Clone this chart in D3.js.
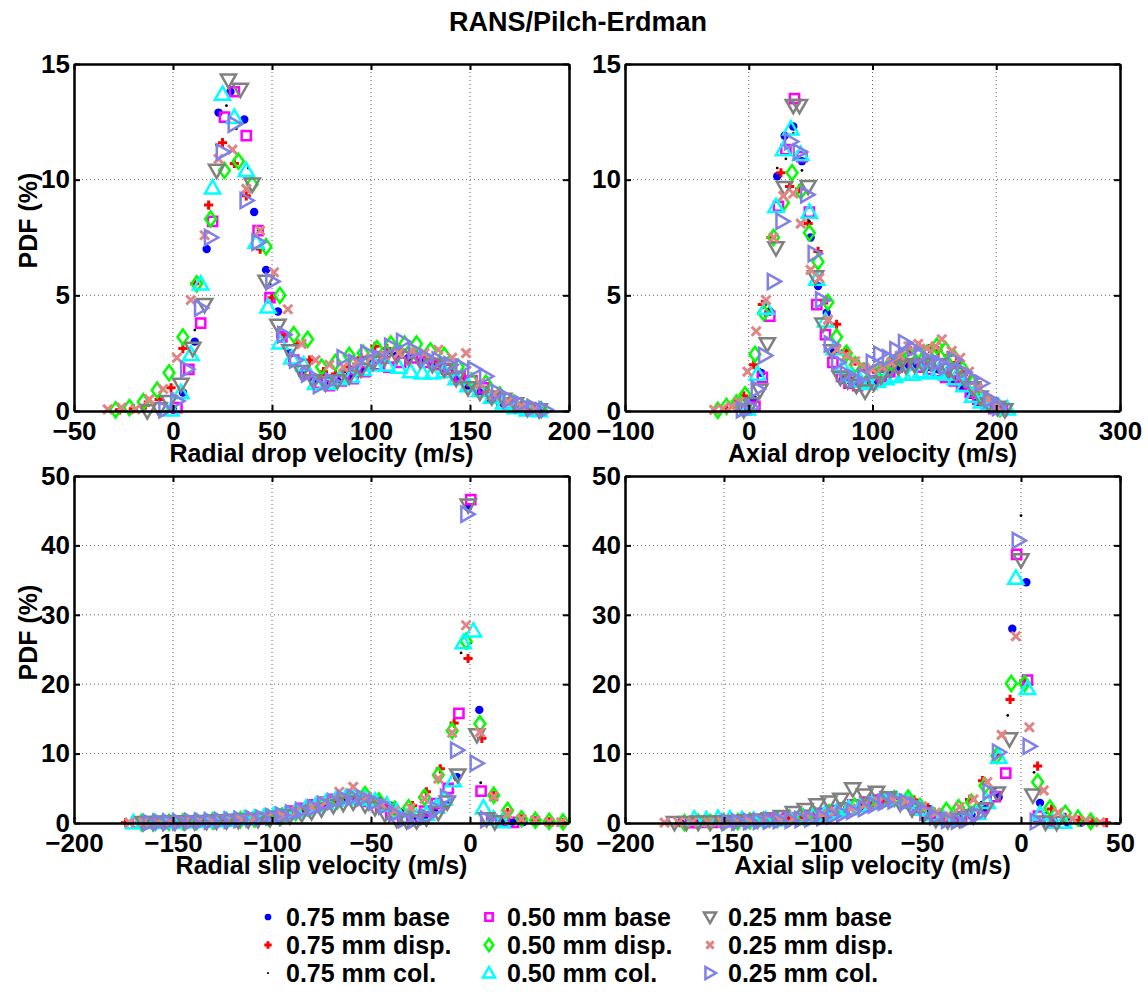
<!DOCTYPE html>
<html lang="en">
<head>
<meta charset="UTF-8">
<title>RANS/Pilch-Erdman</title>
<script src="https://d3js.org/d3.v7.min.js"></script>
<style>
  body { margin: 0; background: #fff; }
  svg { display: block; font-family: "Liberation Sans", Arial, sans-serif; font-weight: bold; }
</style>
</head>
<body>
<svg id="chart" width="1148" height="992"></svg>
<script>
// ---- series names (legend order = draw order) ----
const seriesNames = ["0.75 mm base", "0.75 mm disp.", "0.75 mm col.",
                     "0.50 mm base", "0.50 mm disp.", "0.50 mm col.",
                     "0.25 mm base", "0.25 mm disp.", "0.25 mm col."];

// ---- Radial drop velocity: [m/s, PDF %] ----
const rdB75 = [[0,0.05],[5,0.8],[11,3.0],[17,7.0],[23,12.9],[29,13.8],[36,12.6],[41,8.6],[47,6.1],[53,4.3],[59,2.5],[65,1.6],[71,1.3],[77,1.1],[83,1.3],[89,1.5],[95,1.8],[101,2.1],[107,2.3],[113,2.4],[119,2.3],[125,2.1],[131,1.9],[137,1.7],[143,1.4],[149,1.1],[155,0.8],[161,0.5],[167,0.3],[173,0.15],[179,0.07],[185,0.02]];
const rdD75 = [[-27,0.05],[-20,0.1],[-14,0.25],[-7,0.5],[-1,1.0],[5,2.7],[11,5.5],[18,8.9],[25,11.6],[31,10.7],[37,9.3],[44,7.0],[50,4.9],[56,3.3],[63,2.9],[69,2.2],[76,1.7],[82,1.6],[89,1.9],[95,2.3],[102,2.8],[108,2.7],[115,2.6],[121,2.5],[128,2.3],[134,2.1],[141,1.8],[147,1.4],[154,1.1],[160,0.7],[167,0.4],[173,0.2],[180,0.05]];
const rdC75 = [[-1,0.2],[5,1.0],[11,3.5],[16,7.5],[22,11.5],[27,13.2],[32,12.2],[38,10.5],[43,7.8],[49,5.5],[54,3.6],[60,2.4],[65,1.5],[71,1.2],[76,1.2],[82,1.4],[87,1.7],[93,2.0],[98,2.3],[104,2.5],[109,2.5],[115,2.4],[120,2.2],[126,2.0],[131,1.8],[137,1.6],[142,1.3],[148,1.0],[153,0.7],[159,0.4],[164,0.25],[170,0.12],[175,0.05],[181,0.02]];
const rdB50 = [[2,0.15],[8,1.8],[14,3.8],[20,8.2],[26,12.7],[31,13.8],[37,11.9],[43,7.8],[49,4.9],[55,3.2],[61,2.2],[67,1.6],[73,1.2],[79,1.1],[85,1.3],[91,1.4],[97,1.7],[103,2.0],[109,1.9],[115,2.1],[121,2.3],[127,2.1],[133,2.0],[139,1.8],[145,1.5],[151,1.3],[157,1.0],[163,0.6],[169,0.3],[175,0.15],[181,0.05]];
const rdD50 = [[-29,0.05],[-22,0.15],[-15,0.4],[-8,0.9],[-2,1.65],[5,3.2],[12,5.5],[19,8.3],[26,10.4],[33,10.8],[40,9.8],[47,7.1],[54,5.0],[61,3.3],[68,3.1],[75,1.9],[82,2.1],[89,2.4],[96,2.5],[103,2.7],[110,2.9],[117,2.9],[123,2.9],[130,2.6],[137,2.4],[144,1.9],[151,1.3],[158,1.2],[165,0.7],[172,0.35],[179,0.15],[186,0.05]];
const rdC50 = [[-1,0.05],[4,0.8],[9,2.45],[14,5.5],[20,9.65],[25,13.7],[31,12.7],[37,10.4],[42,7.3],[48,4.5],[54,2.95],[60,2.3],[66,2.0],[72,1.2],[78,1.2],[84,1.4],[90,1.5],[96,1.8],[102,2.0],[108,2.0],[114,1.9],[120,1.7],[126,1.65],[131,1.65],[137,1.7],[143,1.4],[149,1.1],[155,0.9],[161,0.6],[167,0.35],[173,0.15],[179,0.05],[185,0.02]];
const rdB25 = [[-13,0.0],[-7,0.1],[-2,0.4],[4,1.15],[10,2.7],[16,4.6],[22,10.4],[28,14.3],[34,13.9],[40,9.8],[47,5.6],[53,3.7],[59,2.6],[65,1.7],[71,1.3],[77,1.2],[83,1.3],[89,1.5],[95,1.8],[101,2.1],[107,2.3],[113,2.4],[119,2.3],[125,2.2],[131,2.0],[137,1.8],[143,1.4],[149,1.0],[155,0.8],[161,0.6],[167,0.5],[173,0.3],[179,0.1],[185,0.05]];
const rdD25 = [[-33,0.07],[-26,0.15],[-19,0.07],[-12,0.5],[-5,0.95],[2,2.3],[9,4.8],[16,7.6],[23,10.9],[30,11.3],[37,9.6],[44,7.8],[51,6.0],[58,4.4],[65,2.9],[72,2.2],[79,2.0],[86,1.9],[93,2.1],[100,2.3],[107,2.4],[114,2.5],[121,2.6],[127,2.5],[134,2.65],[141,2.3],[148,2.5],[155,1.2],[162,0.7],[169,0.4],[176,0.2],[183,0.05]];
const rdC25 = [[-4,0.05],[2,0.43],[7,1.8],[14,4.45],[19,7.5],[25,11.2],[31,12.4],[37,9.1],[43,7.3],[50,5.6],[56,3.3],[62,2.2],[68,1.6],[74,1.1],[80,1.3],[86,2.3],[92,2.1],[98,2.5],[104,2.3],[110,2.8],[116,3.0],[122,2.6],[128,2.3],[134,2.2],[140,2.0],[146,1.9],[152,1.8],[158,1.5],[164,0.8],[170,0.5],[176,0.3],[182,0.15],[188,0.05]];

// ---- Axial drop velocity ----
const adB75 = [[-1,0.1],[4,0.5],[10,1.65],[17,4.3],[23,10.15],[29,11.9],[36,12.3],[43,10.8],[50,7.5],[56,5.4],[63,4.25],[69,2.6],[76,1.35],[82,1.3],[89,1.2],[95,1.1],[101,1.2],[108,1.4],[114,1.6],[121,1.8],[127,1.9],[134,2.0],[140,2.0],[146,1.9],[153,1.8],[159,1.6],[166,1.3],[172,1.0],[179,0.7],[185,0.4],[192,0.2],[198,0.1],[205,0.03]];
const adD75 = [[-18,0.1],[-11,0.3],[-4,0.65],[4,2.0],[11,4.6],[18,7.5],[26,10.3],[33,9.7],[41,9.6],[48,8.1],[56,6.9],[63,4.8],[71,3.75],[78,2.6],[86,2.15],[93,1.9],[101,1.8],[108,1.9],[116,2.1],[123,2.4],[131,2.6],[138,2.8],[146,2.7],[153,2.6],[161,2.4],[168,2.1],[176,1.7],[183,1.2],[191,0.6],[198,0.2],[206,0.05]];
const adC75 = [[-3,0.1],[3,0.6],[9,1.8],[16,4.4],[23,10.5],[30,10.9],[36,12.0],[43,10.4],[49,8.2],[56,6.9],[63,4.0],[69,2.6],[76,1.6],[83,1.4],[89,1.3],[96,1.2],[103,1.3],[109,1.5],[116,1.7],[122,1.9],[129,2.1],[136,2.2],[142,2.3],[149,2.2],[156,2.0],[162,1.8],[169,1.6],[176,1.2],[182,0.8],[189,0.4],[195,0.15],[202,0.05]];
const adB50 = [[-2,0.05],[5,0.2],[11,1.45],[17,4.1],[24,8.85],[30,11.3],[37,13.5],[43,11.0],[49,8.6],[55,4.6],[62,3.3],[68,2.1],[75,1.5],[81,1.2],[88,1.1],[94,1.2],[101,1.3],[107,1.5],[114,1.7],[120,1.9],[127,2.0],[133,2.0],[140,1.9],[146,1.8],[153,1.7],[159,1.45],[166,1.3],[172,1.1],[179,0.8],[185,0.5],[192,0.3],[198,0.1],[205,0.03]];
const adD50 = [[-25,0.03],[-18,0.2],[-10,0.35],[-3,0.7],[5,2.45],[12,4.25],[20,7.5],[28,9.0],[35,10.3],[42,9.5],[49,7.7],[56,6.45],[64,4.7],[71,3.2],[79,2.5],[86,2.0],[93,1.7],[100,1.6],[108,1.8],[115,2.1],[122,2.3],[130,2.4],[137,2.6],[144,2.5],[152,2.8],[159,2.65],[166,2.3],[173,1.8],[181,1.2],[188,0.6],[195,0.3],[203,0.1]];
const adC50 = [[-1,0.1],[7,1.6],[14,4.45],[22,8.85],[28,11.3],[34,12.2],[42,11.1],[49,8.6],[55,5.7],[62,3.9],[69,2.7],[76,1.9],[83,1.5],[90,1.3],[97,1.2],[104,1.3],[111,1.4],[118,1.5],[125,1.6],[132,1.6],[139,1.7],[146,1.65],[153,1.7],[160,1.6],[167,1.4],[174,1.1],[181,0.65],[188,0.4],[195,0.3],[202,0.2],[209,0.1]];
const adB25 = [[-4,0.05],[2,0.3],[9,0.9],[15,2.9],[22,7.05],[29,9.65],[36,13.2],[41,13.2],[48,9.7],[54,5.8],[60,3.75],[67,2.6],[74,1.45],[80,1.3],[87,1.1],[94,0.86],[101,1.2],[107,1.5],[114,1.8],[121,1.9],[127,1.95],[134,2.0],[141,2.0],[147,2.1],[154,2.0],[161,1.8],[167,1.6],[174,1.4],[181,1.0],[187,0.6],[194,0.3],[201,0.15],[207,0.05]];
const adD25 = [[-28,0.05],[-21,0.1],[-14,0.2],[-8,0.4],[-1,1.7],[6,3.45],[14,4.8],[20,7.5],[28,9.3],[36,9.4],[42,8.1],[50,6.1],[57,5.75],[64,3.95],[71,2.65],[79,2.4],[86,2.15],[93,1.9],[100,1.8],[108,1.9],[115,2.1],[122,2.4],[129,2.8],[137,2.9],[144,2.7],[151,2.8],[156,3.1],[164,2.6],[171,2.3],[178,1.7],[185,1.0],[193,0.5],[200,0.2]];
const adC25 = [[-5,0.05],[2,0.15],[7,0.95],[13,2.4],[20,5.6],[27,8.2],[34,11.65],[41,11.2],[47,9.35],[53,6.8],[59,4.8],[66,2.9],[72,2.1],[79,1.6],[86,1.4],[93,1.5],[100,2.1],[106,2.45],[113,2.3],[119,2.65],[126,2.95],[133,2.7],[139,2.4],[146,2.2],[153,2.1],[159,1.9],[166,2.2],[173,1.7],[180,1.4],[188,1.2],[195,0.5],[202,0.15]];

// ---- Radial slip velocity ----
const rsB75 = [[-163,0.05],[-158,0.1],[-152,0.1],[-147,0.15],[-141,0.2],[-135,0.2],[-130,0.3],[-124,0.35],[-118,0.4],[-113,0.5],[-107,0.6],[-102,0.8],[-96,1.0],[-90,1.3],[-85,1.7],[-79,2.1],[-74,2.6],[-68,3.0],[-62,3.4],[-57,3.6],[-51,3.5],[-46,3.2],[-40,2.5],[-34,1.4],[-29,0.8],[-23,1.0],[-18,1.6],[-12,2.6],[-6.5,6.6],[-1,45.5],[4.7,16.3],[10.3,0.6],[16,0.3],[21.5,0.2],[27,0.15],[33,0.1]];
const rsD75 = [[-174,0.05],[-167,0.1],[-160,0.1],[-153,0.15],[-146,0.2],[-139,0.25],[-132,0.3],[-125,0.4],[-118,0.5],[-111,0.6],[-104,0.8],[-97,1.0],[-90,1.4],[-83,1.9],[-76,2.5],[-69,3.0],[-62,3.6],[-55,3.8],[-48,3.3],[-41,2.5],[-35,1.5],[-29,2.5],[-22,4.5],[-15,7.8],[-8,14.4],[-1,23.7],[6,12.2],[12,4.0],[19,1.5],[26,0.6],[33,0.3],[40,0.15],[47,0.05]];
const rsC75 = [[-166,0.05],[-160,0.1],[-154,0.1],[-148,0.15],[-142,0.2],[-136,0.25],[-130,0.3],[-124,0.35],[-118,0.45],[-112,0.55],[-106,0.7],[-100,0.9],[-94,1.2],[-88,1.5],[-82,2.0],[-76,2.5],[-70,3.0],[-64,3.4],[-58,3.6],[-52,3.4],[-46,3.0],[-40,2.0],[-34,1.0],[-28,0.9],[-22,1.5],[-16,2.6],[-10,5.5],[-4.5,24.5],[0.5,26.0],[5.4,5.8],[11,0.5],[17,0.2],[23,0.1]];
const rsB50 = [[-168,0.05],[-163,0.1],[-157,0.1],[-152,0.15],[-146,0.2],[-140,0.2],[-135,0.3],[-129,0.35],[-124,0.4],[-118,0.5],[-112,0.6],[-107,0.8],[-101,1.0],[-96,1.3],[-90,1.7],[-84,2.1],[-79,2.6],[-73,3.0],[-68,3.4],[-62,3.6],[-56,3.4],[-51,3.1],[-45,2.4],[-40,1.3],[-34,0.7],[-28,1.0],[-23,1.7],[-17,2.8],[-11,5.0],[-5.6,15.8],[0.4,46.6],[5.6,4.6],[11,0.5],[17,0.2],[22,0.1]];
const rsD50 = [[-166,0.05],[-159,0.1],[-152,0.1],[-145,0.15],[-138,0.2],[-130,0.3],[-123,0.35],[-116,0.45],[-109,0.6],[-102,0.8],[-95,1.0],[-88,1.5],[-81,2.0],[-74,2.6],[-67,3.2],[-60,3.6],[-53,4.1],[-46,3.2],[-38,2.0],[-31,2.2],[-23,3.7],[-16,6.9],[-9,13.3],[-2,26.2],[5,14.3],[12,4.0],[19,1.8],[26,0.6],[33,0.4],[40,0.25],[47,0.15]];
const rsC50 = [[-170,0.05],[-165,0.1],[-160,0.1],[-155,0.15],[-150,0.15],[-144,0.2],[-139,0.25],[-134,0.3],[-129,0.35],[-124,0.4],[-119,0.5],[-114,0.6],[-109,0.7],[-104,0.9],[-99,1.1],[-93,1.4],[-88,1.7],[-83,2.1],[-78,2.5],[-73,2.9],[-68,3.3],[-63,3.6],[-58,3.8],[-53,3.5],[-48,3.2],[-42,2.6],[-37,1.7],[-32,0.9],[-27,0.8],[-22,1.3],[-17,2.3],[-13,3.5],[-8.4,6.1],[-3.4,26.0],[1.7,27.7],[6.8,2.2],[11.9,0.6],[16.2,0.2]];
const rsB25 = [[-165,0.05],[-160,0.05],[-155,0.1],[-149,0.1],[-144,0.15],[-139,0.15],[-133,0.2],[-128,0.25],[-123,0.3],[-117,0.35],[-112,0.4],[-107,0.5],[-101,0.6],[-96,0.8],[-91,1.0],[-85,1.3],[-80,1.6],[-75,2.0],[-69,2.5],[-64,2.8],[-59,3.0],[-53,2.6],[-48,2.2],[-43,1.3],[-37,0.5],[-32,0.3],[-27,0.3],[-22,0.7],[-16,1.5],[-11.5,3.0],[-6.2,6.9],[-0.9,45.8],[3.5,12.7],[8.4,0.6],[12.5,0.15]];
const rsD25 = [[-172,0.05],[-165,0.1],[-158,0.1],[-151,0.15],[-144,0.2],[-137,0.25],[-130,0.3],[-123,0.4],[-116,0.5],[-109,0.7],[-102,0.9],[-95,1.1],[-88,1.6],[-80,2.3],[-73,3.0],[-66,4.5],[-59,5.2],[-52,3.8],[-45,2.8],[-38,1.8],[-30,2.2],[-23,3.5],[-16,6.4],[-9,13.0],[-2,28.5],[5,13.1],[12,3.8],[19,1.3],[26,0.6],[33,0.4],[40,0.15],[46,0.1]];
const rsC25 = [[-162,0.05],[-157,0.1],[-152,0.1],[-147,0.15],[-141,0.2],[-136,0.25],[-131,0.3],[-126,0.35],[-121,0.4],[-116,0.5],[-110,0.6],[-105,0.7],[-100,0.9],[-95,1.1],[-90,1.4],[-85,1.8],[-79,2.2],[-74,2.7],[-69,3.1],[-64,3.5],[-59,3.7],[-54,3.6],[-48,3.0],[-43,2.4],[-38,1.3],[-33,0.5],[-28,0.4],[-22,0.9],[-17,2.0],[-11.8,3.7],[-6.7,10.5],[-1.5,44.5],[3.2,8.6],[8.5,0.5]];

// ---- Axial slip velocity ----
const asB75 = [[-172,0.05],[-165,0.1],[-158,0.1],[-151,0.15],[-144,0.2],[-137,0.3],[-130,0.4],[-123,0.5],[-116,0.7],[-109,0.9],[-102,1.2],[-95,1.6],[-88,2.0],[-81,2.4],[-74,2.9],[-67,3.2],[-60,3.4],[-53,2.9],[-46,2.0],[-39,1.0],[-32,0.8],[-25,1.2],[-18,2.0],[-11.3,3.7],[-4.4,28.0],[2.7,34.7],[9.6,2.9],[16.5,0.3],[23.5,0.1],[30.5,0.05]];
const asD75 = [[-172,0.05],[-165,0.1],[-158,0.1],[-152,0.15],[-145,0.2],[-138,0.25],[-131,0.35],[-124,0.45],[-117,0.6],[-110,0.8],[-103,1.0],[-96,1.4],[-89,1.8],[-82,2.3],[-75,2.8],[-68,3.2],[-61,3.5],[-54,3.3],[-47,2.2],[-40,1.4],[-33,1.3],[-26,3.4],[-19.4,6.1],[-12.5,9.8],[-5.5,17.8],[1.5,20.5],[8.4,8.2],[15.4,2.0],[22.3,0.8],[29.3,0.4],[36.2,0.15],[43.2,0.05]];
const asC75 = [[-174,0.05],[-167,0.1],[-161,0.1],[-154,0.15],[-147,0.2],[-141,0.3],[-134,0.4],[-127,0.5],[-120,0.7],[-114,0.9],[-107,1.2],[-100,1.6],[-94,2.0],[-87,2.5],[-80,2.9],[-74,3.3],[-67,3.5],[-60,3.2],[-54,2.5],[-47,1.6],[-40,0.9],[-33,1.0],[-27,1.6],[-20,3.0],[-13,5.0],[-6.7,15.5],[0,44.3],[6.6,7.3],[13,1.5],[20,0.4],[27,0.1]];
const asB50 = [[-167,0.05],[-162,0.1],[-156,0.1],[-151,0.15],[-145,0.2],[-140,0.25],[-134,0.3],[-129,0.4],[-123,0.5],[-118,0.7],[-112,0.8],[-107,1.1],[-101,1.4],[-96,1.8],[-90,2.2],[-85,2.6],[-79,3.0],[-74,3.3],[-68,3.5],[-63,3.4],[-57,3.0],[-52,2.2],[-46,1.4],[-41,0.8],[-35,0.6],[-30,0.9],[-24,1.4],[-19,2.2],[-13,3.8],[-7.7,7.2],[-2.2,38.7],[3.3,20.6],[8.8,1.0],[14.3,0.2]];
const asD50 = [[-170,0.05],[-163,0.1],[-157,0.1],[-150,0.15],[-143,0.2],[-137,0.3],[-130,0.4],[-123,0.5],[-117,0.7],[-110,0.9],[-104,1.1],[-97,1.5],[-90,1.9],[-84,2.4],[-77,2.9],[-70,3.3],[-64,3.5],[-57,3.6],[-51,2.4],[-44,1.0],[-37.7,1.8],[-31.5,2.2],[-25,3.0],[-18.2,5.4],[-12.2,9.7],[-4.9,20.1],[1.8,20.1],[8.4,5.9],[14.6,2.15],[22.4,1.4],[28.8,0.7],[35.2,0.25]];
const asC50 = [[-165,0.6],[-159,0.5],[-153,0.7],[-147,0.6],[-141,0.5],[-135,0.4],[-129,0.5],[-123,0.5],[-117,0.7],[-111,0.9],[-105,1.1],[-99,1.3],[-93,1.7],[-87,2.1],[-81,2.5],[-75,2.9],[-69,3.3],[-63,3.4],[-57,3.0],[-51,2.0],[-45,1.2],[-39,0.6],[-33,0.5],[-27,0.8],[-22,1.4],[-17,3.0],[-11.3,9.5],[-2.6,35.3],[3.3,19.4],[9.6,1.3],[16,0.15],[21.5,0.15]];
const asB25 = [[-175,0.05],[-169,0.05],[-163,0.1],[-157,0.1],[-151,0.15],[-145,0.2],[-139,0.3],[-133,0.4],[-127,0.6],[-121,0.9],[-115,1.5],[-109,1.9],[-103,2.6],[-97,3.0],[-91,3.4],[-85,4.9],[-79,4.0],[-73,4.4],[-67,3.6],[-61,2.8],[-55,2.0],[-49,1.3],[-43,0.5],[-37,0.3],[-31,0.5],[-24,1.0],[-18,2.0],[-12,4.3],[-5.8,12.1],[0,37.9],[6,4.0],[12.4,0.1],[18,0.05]];
const asD25 = [[-180,0.05],[-173,0.1],[-166,0.1],[-158,0.1],[-151,0.15],[-144,0.2],[-137,0.3],[-130,0.4],[-122,0.5],[-115,0.7],[-108,0.9],[-101,1.2],[-94,1.6],[-86,2.1],[-79,2.6],[-72,3.0],[-65,3.3],[-58,3.2],[-50,2.4],[-43,1.5],[-36,1.0],[-31,2.3],[-24,3.4],[-17,5.9],[-9.8,12.7],[-2.6,26.9],[4.2,13.8],[11.5,4.7],[18.7,1.5],[26,0.6],[33,0.3],[40,0.1]];
const asC25 = [[-148,0.1],[-143,0.15],[-137,0.2],[-132,0.25],[-127,0.3],[-122,0.35],[-116,0.4],[-111,0.5],[-106,0.6],[-100,0.8],[-95,1.0],[-90,1.3],[-85,1.7],[-79,2.1],[-74,2.6],[-69,3.0],[-64,3.2],[-58,3.0],[-53,2.5],[-48,1.6],[-43,0.9],[-37,0.4],[-32,0.3],[-27,0.5],[-22,1.2],[-16,4.5],[-11.3,10.2],[-1.3,40.7],[4.2,11.05],[7.8,0.2]];

// ---- axis ticks ----
const dropRadialTicks = [-50, 0, 50, 100, 150, 200];
const dropAxialTicks = [-100, 0, 100, 200, 300];
const slipTicks = [-200, -150, -100, -50, 0, 50];
const dropPdfTicks = [0, 5, 10, 15];
const slipPdfTicks = [0, 10, 20, 30, 40, 50];

// ---- marker styles ----
const markers = [
  { color: "#0000ff", kind: "dot", r: 4.2 },
  { color: "#ff0000", kind: "plus", s: 4.6 },
  { color: "#000000", kind: "dot", r: 1.4 },
  { color: "#ff00ff", kind: "square", s: 4.6 },
  { color: "#00ff00", kind: "diamond", s: 7.5 },
  { color: "#00ffff", kind: "up", s: 7.6 },
  { color: "#808080", kind: "down", s: 7.6 },
  { color: "#e08585", kind: "cross", s: 4.5 },
  { color: "#8080e6", kind: "right", s: 7.6 }
];

function markerPath(kind, s) {
  switch (kind) {
    case "plus":    return `M${-s},0H${s}M0,${-s}V${s}`;
    case "cross":   return `M${-s},${-s}L${s},${s}M${s},${-s}L${-s},${s}`;
    case "square":  return `M${-s},${-s}H${s}V${s}H${-s}Z`;
    case "diamond": return `M0,${-s}L${s * 0.72},0L0,${s}L${-s * 0.72},0Z`;
    case "up":      return `M0,${-s}L${s},${s * 0.75}L${-s},${s * 0.75}Z`;
    case "down":    return `M0,${s}L${s},${-s * 0.75}L${-s},${-s * 0.75}Z`;
    case "right":   return `M${s},0L${-s * 0.75},${-s}L${-s * 0.75},${s}Z`;
  }
}

function drawMarker(sel, m, scale) {
  if (m.kind === "dot") {
    sel.append("circle").attr("r", m.r * scale).attr("fill", m.color);
  } else {
    const open = ["square", "diamond", "up", "down", "right"].includes(m.kind);
    sel.append("path")
      .attr("d", markerPath(m.kind, m.s * scale))
      .attr("fill", "none")
      .attr("stroke", m.color)
      .attr("stroke-width", open ? 2.5 : 3);
  }
}

const svg = d3.select("#chart");
svg.append("rect").attr("width", 1148).attr("height", 992).attr("fill", "#fff");

svg.append("text")
  .attr("x", 578).attr("y", 31)
  .attr("text-anchor", "middle")
  .attr("font-size", 27)
  .text("RANS/Pilch-Erdman");

const panels = [
  { x0: 74,  x1: 569,  y0: 64,  y1: 411, xd: [-50, 200],  xt: dropRadialTicks, yd: [0, 15], yt: dropPdfTicks,
    title: "Radial drop velocity (m/s)", ylab: true,
    data: [rdB75, rdD75, rdC75, rdB50, rdD50, rdC50, rdB25, rdD25, rdC25] },
  { x0: 625, x1: 1120, y0: 64,  y1: 411, xd: [-100, 300], xt: dropAxialTicks, yd: [0, 15], yt: dropPdfTicks,
    title: "Axial drop velocity (m/s)", ylab: false,
    data: [adB75, adD75, adC75, adB50, adD50, adC50, adB25, adD25, adC25] },
  { x0: 74,  x1: 569,  y0: 476, y1: 823, xd: [-200, 50],  xt: slipTicks, yd: [0, 50], yt: slipPdfTicks,
    title: "Radial slip velocity (m/s)", ylab: true,
    data: [rsB75, rsD75, rsC75, rsB50, rsD50, rsC50, rsB25, rsD25, rsC25] },
  { x0: 625, x1: 1120, y0: 476, y1: 823, xd: [-200, 50],  xt: slipTicks, yd: [0, 50], yt: slipPdfTicks,
    title: "Axial slip velocity (m/s)", ylab: false,
    data: [asB75, asD75, asC75, asB50, asD50, asC50, asB25, asD25, asC25] }
];

panels.forEach(p => {
  const x = d3.scaleLinear().domain(p.xd).range([p.x0, p.x1]);
  const y = d3.scaleLinear().domain(p.yd).range([p.y1, p.y0]);
  const g = svg.append("g");

  // dotted grid
  g.append("g").selectAll("line").data(p.xt.slice(1, -1)).join("line")
    .attr("x1", d => x(d)).attr("x2", d => x(d))
    .attr("y1", p.y0).attr("y2", p.y1)
    .attr("stroke", "#666").attr("stroke-width", 1).attr("stroke-dasharray", "1,3");
  g.append("g").selectAll("line").data(p.yt.slice(1, -1)).join("line")
    .attr("y1", d => y(d)).attr("y2", d => y(d))
    .attr("x1", p.x0).attr("x2", p.x1)
    .attr("stroke", "#666").attr("stroke-width", 1).attr("stroke-dasharray", "1,3");

  // markers, in legend order
  p.data.forEach((series, i) => {
    const m = markers[i];
    g.append("g").selectAll("g").data(series).join("g")
      .attr("transform", d => `translate(${x(d[0])},${y(d[1])})`)
      .each(function () { drawMarker(d3.select(this), m, 1); });
  });

  // axes: ticks inward on all four sides
  const ax = (axis, tx, ty, pad) => {
    const a = g.append("g").attr("transform", `translate(${tx},${ty})`)
      .call(axis.tickSizeInner(-6).tickSizeOuter(0).tickPadding(pad || 0));
    a.select(".domain").attr("stroke-width", 2.5).attr("stroke", "#000");
    a.selectAll(".tick line").attr("stroke-width", 2);
    if (pad) {
      a.selectAll("text").attr("font-size", 26).attr("font-family", null)
        .attr("font-weight", "bold").attr("fill", "#000");
    } else {
      a.selectAll("text").remove();
    }
    return a;
  };
  ax(d3.axisBottom(x).tickValues(p.xt), 0, p.y1, 11);
  ax(d3.axisTop(x).tickValues(p.xt), 0, p.y0, 0);
  ax(d3.axisLeft(y).tickValues(p.yt), p.x0, 0, 4);
  ax(d3.axisRight(y).tickValues(p.yt), p.x1, 0, 0);

  g.append("text")
    .attr("x", (p.x0 + p.x1) / 2).attr("y", p.y1 + 51)
    .attr("text-anchor", "middle").attr("font-size", 25)
    .text(p.title);

  if (p.ylab) {
    g.append("text")
      .attr("transform", `translate(37,${(p.y0 + p.y1) / 2 - 17}) rotate(-90)`)
      .attr("text-anchor", "middle").attr("font-size", 25)
      .text("PDF (%)");
  }
});

// legend, three columns
const legCols = [268, 489, 710];
const legRows = [917, 945, 973];
seriesNames.forEach((name, i) => {
  const cx = legCols[Math.floor(i / 3)];
  const cy = legRows[i % 3];
  const lg = svg.append("g").attr("transform", `translate(${cx},${cy})`);
  drawMarker(lg, markers[i], 0.8);
  svg.append("text")
    .attr("x", cx + 18).attr("y", cy + 9)
    .attr("font-size", 25)
    .text(name);
});
</script>
</body>
</html>
